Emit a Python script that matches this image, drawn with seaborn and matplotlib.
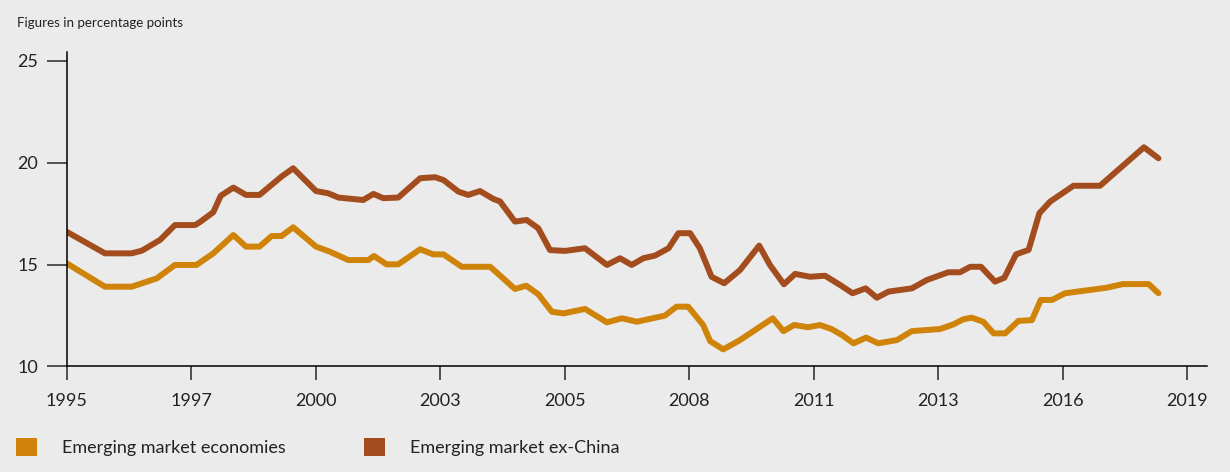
import numpy as np
import pandas as pd
import matplotlib.pyplot as plt
import seaborn as sns
from matplotlib.patches import Patch

# Values (decimal years, percentage points)
ex_china_years = [1995.0, 1995.82, 1996.39, 1996.61, 1997.0, 1997.32, 1997.75, 1997.85,
                  1998.14, 1998.30, 1998.57, 1998.84, 1999.13, 1999.60, 1999.85, 2000.34,
                  2000.60, 2000.82, 2001.35, 2001.57, 2001.78, 2002.10, 2002.57, 2002.89,
                  2003.07, 2003.39, 2003.60, 2003.85, 2004.14, 2004.28, 2004.60, 2004.85,
                  2005.10, 2005.35, 2005.67, 2006.10, 2006.57, 2006.85, 2007.10, 2007.35,
                  2007.60, 2007.89, 2008.10, 2008.35, 2008.56, 2008.81, 2009.08, 2009.42,
                  2009.83, 2010.06, 2010.36, 2010.60, 2010.92, 2011.24, 2011.56, 2011.83,
                  2012.11, 2012.35, 2012.60, 2013.10, 2013.42, 2013.88, 2014.13, 2014.35,
                  2014.58, 2014.88, 2015.08, 2015.33, 2015.60, 2015.83, 2016.06, 2016.56,
                  2017.13, 2018.07, 2018.38]
ex_china_vals = [16.61, 15.55, 15.55, 15.68, 16.21, 16.94, 16.94, 17.08,
                 17.57, 18.38, 18.78, 18.42, 18.42, 19.32, 19.73, 18.61,
                 18.50, 18.29, 18.17, 18.47, 18.26, 18.29, 19.24, 19.29,
                 19.15, 18.58, 18.42, 18.61, 18.22, 18.10, 17.11, 17.19,
                 16.78, 15.71, 15.67, 15.80, 14.98, 15.31, 14.98, 15.31,
                 15.44, 15.80, 16.54, 16.54, 15.80, 14.40, 14.08, 14.73,
                 15.93, 14.98, 14.03, 14.54, 14.40, 14.45, 14.00, 13.59,
                 13.83, 13.37, 13.67, 13.83, 14.24, 14.62, 14.62, 14.89,
                 14.89, 14.16, 14.35, 15.50, 15.72, 17.52, 18.09, 18.87,
                 18.87, 20.76, 20.22]

eme_years = [1995.0, 1995.82, 1996.39, 1996.93, 1997.32, 1997.78, 1998.14, 1998.57,
             1998.84, 1999.13, 1999.39, 1999.60, 1999.85, 2000.34, 2000.64, 2001.03,
             2001.46, 2001.58, 2001.85, 2002.10, 2002.57, 2002.85, 2003.07, 2003.46,
             2004.07, 2004.60, 2004.84, 2005.10, 2005.39, 2005.64, 2006.10, 2006.57,
             2006.89, 2007.21, 2007.81, 2008.06, 2008.31, 2008.63, 2008.78, 2009.06,
             2009.42, 2010.12, 2010.35, 2010.58, 2010.88, 2011.13, 2011.38, 2011.60,
             2011.85, 2012.12, 2012.38, 2012.78, 2013.10, 2013.70, 2013.99, 2014.20,
             2014.38, 2014.63, 2014.85, 2015.10, 2015.38, 2015.67, 2015.86, 2016.10,
             2016.38, 2017.27, 2017.62, 2018.17, 2018.38]
eme_vals = [15.06, 13.91, 13.91, 14.32, 14.98, 14.98, 15.55, 16.45,
            15.88, 15.88, 16.40, 16.40, 16.83, 15.88, 15.63, 15.22,
            15.22, 15.42, 15.01, 15.01, 15.75, 15.50, 15.50, 14.89,
            14.89, 13.80, 13.96, 13.54, 12.68, 12.60, 12.82, 12.16,
            12.36, 12.19, 12.49, 12.93, 12.93, 12.03, 11.24, 10.83,
            11.29, 12.36, 11.73, 12.03, 11.92, 12.03, 11.83, 11.54,
            11.13, 11.41, 11.13, 11.29, 11.73, 11.83, 12.06, 12.31,
            12.39, 12.19, 11.62, 11.62, 12.23, 12.27, 13.26, 13.26,
            13.59, 13.86, 14.04, 14.04, 13.59]

series_names = ["Emerging market economies", "Emerging market ex-China"]
series_colors = ["#D08309", "#A34D1E"]
tick_labels = ["1995", "1997", "2000", "2003", "2005", "2008", "2011", "2013", "2016", "2019"]
y_ticks = [10, 15, 20, 25]

df = pd.concat([
    pd.DataFrame({"year": eme_years, "value": eme_vals, "series": series_names[0]}),
    pd.DataFrame({"year": ex_china_years, "value": ex_china_vals, "series": series_names[1]}),
])

bg = "#EBEBEB"
text_col = "#222222"
sns.set_style("ticks", {"axes.facecolor": bg, "figure.facecolor": bg})
plt.rcParams["font.family"] = ["Lato", "DejaVu Sans"]

fig = plt.figure(figsize=(12.3, 4.72), dpi=100)
ax = fig.add_axes([0.0542, 0.2239, 0.9271, 0.6659])

sns.lineplot(data=df, x="year", y="value", hue="series", hue_order=series_names,
             palette=series_colors, linewidth=4.3, legend=False, ax=ax,
             solid_capstyle="round", estimator=None)

ax.set_xlim(1995, 2019.42)
ax.set_ylim(10, 25.44)
ax.set_xticks(np.linspace(1995, 2019, 10))
ax.set_xticklabels(tick_labels)
ax.set_yticks(y_ticks)
ax.set_xlabel("")
ax.set_ylabel("")
sns.despine(ax=ax)
for s in ["left", "bottom"]:
    ax.spines[s].set_linewidth(1.1)
    ax.spines[s].set_color("black")
ax.tick_params(axis="y", length=14.4, width=1.1, pad=6, labelsize=13, labelcolor=text_col)
ax.tick_params(axis="x", length=10, width=1.1, pad=9, labelsize=13, labelcolor=text_col)

fig.text(0.0138, 0.951, "Figures in percentage points", fontsize=9.6, color=text_col,
         va="center", ha="left")

handles = [Patch(facecolor=c, edgecolor="none", label=n) for n, c in zip(series_names, series_colors)]
leg = fig.legend(handles=handles, loc="lower left", bbox_to_anchor=(0.013, 0.034), ncol=2,
                 frameon=False, fontsize=13, handlelength=1.17, handleheight=1.17,
                 handletextpad=1.4, columnspacing=4.3, borderpad=0, borderaxespad=0)
for t in leg.get_texts():
    t.set_color(text_col)

fig.savefig("out.png", dpi=100, facecolor=bg)
